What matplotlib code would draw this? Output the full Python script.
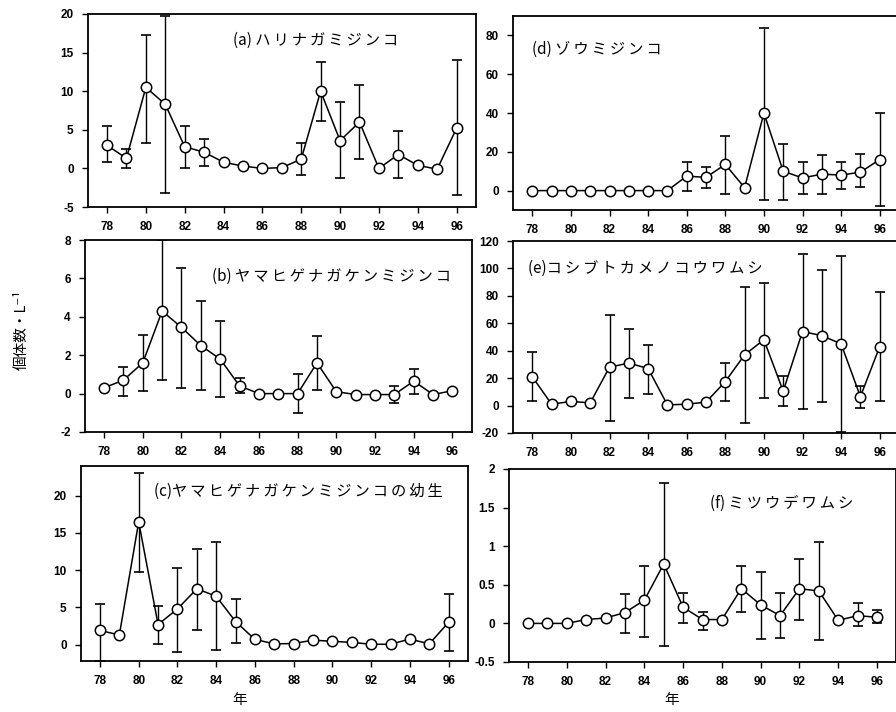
import numpy as np
import matplotlib
matplotlib.use('Agg')
import matplotlib.pyplot as plt

plt.rcParams['font.family'] = ['Liberation Sans', 'DejaVu Sans']
plt.rcParams['axes.unicode_minus'] = False
JP = ['Noto Sans CJK JP', 'DejaVu Sans']

years = list(range(78, 97))
N = None

# (a) ハリナガミジンコ
a_mean = [3.0, 1.3, 10.5, 8.3, 2.8, 2.1, 0.8, 0.3, 0.0, 0.1, 1.2, 10.0, 3.6, 6.0, 0.0, 1.8, 0.4, -0.1, 5.2]
a_lo = [0.8, 0.0, 3.3, -3.2, 0.0, 0.3, N, N, N, N, -0.8, 6.1, -1.3, 1.2, N, -1.2, N, N, -3.5]
a_hi = [5.5, 2.5, 17.3, 19.8, 5.5, 3.8, N, N, N, N, 3.3, 13.8, 8.6, 10.8, N, 4.8, N, N, 14.0]

# (b) ヤマヒゲナガケンミジンコ
b_mean = [0.3, 0.7, 1.6, 4.3, 3.45, 2.5, 1.8, 0.4, 0.0, 0.0, 0.0, 1.6, 0.1, -0.05, -0.05, -0.05, 0.65, -0.05, 0.15]
b_lo = [N, -0.1, 0.15, 0.7, 0.3, 0.2, -0.2, 0.05, N, N, -1.0, 0.2, N, N, N, -0.5, 0.0, N, N]
b_hi = [N, 1.4, 3.05, 8.0, 6.55, 4.8, 3.8, 0.8, N, N, 1.0, 3.0, N, N, N, 0.4, 1.3, N, N]

# (c) ヤマヒゲナガケンミジンコの幼生
c_mean = [1.9, 1.3, 16.5, 2.7, 4.8, 7.5, 6.5, 3.1, 0.7, 0.1, 0.15, 0.6, 0.45, 0.3, 0.05, 0.05, 0.75, 0.1, 3.0]
c_lo = [-2.2, N, 9.7, 0.1, -1.0, 1.9, -0.7, 0.2, N, N, N, N, N, N, N, N, N, N, -0.9]
c_hi = [5.5, N, 23.0, 5.2, 10.3, 12.9, 13.8, 6.1, N, N, N, N, N, N, N, N, N, N, 6.8]

# (d) ゾウミジンコ
d_mean = [0, 0, 0, 0, 0, 0, 0, 0, 7.5, 6.8, 13.5, 1.5, 40.0, 10.0, 6.5, 8.5, 8.0, 9.5, 16.0]
d_lo = [N, N, N, N, N, N, N, N, -0.3, 1.3, -2.0, N, -5.0, -5.0, -2.0, -2.0, 0.8, 2.0, -8.0]
d_hi = [N, N, N, N, N, N, N, N, 14.8, 12.0, 28.3, N, 84.0, 24.2, 14.6, 18.2, 14.6, 19.0, 40.0]

# (e) コシブトカメノコウワムシ
e_mean = [21, 1, 3, 2, 28, 31, 27, 0.5, 1, 2.5, 17.5, 37, 48, 10.5, 54, 51, 45, 6.5, 43]
e_lo = [3, N, N, N, -11.5, 5.5, 8.5, N, N, N, 3, -12.5, 5.5, -0.5, -2.8, 2.5, -19, -1.8, 3.3]
e_hi = [39, N, N, N, 65.8, 56, 44.5, N, N, N, 31, 86.8, 89.5, 21.8, 110.5, 98.5, 108.8, 14.3, 82.5]

# (f) ミツウデワムシ
f_mean = [0, 0, 0, 0.05, 0.07, 0.14, 0.3, 0.77, 0.21, 0.05, 0.05, 0.45, 0.24, 0.1, 0.45, 0.42, 0.04, 0.1, 0.08]
f_lo = [N, N, N, N, N, -0.13, -0.17, -0.29, 0.0, -0.08, N, 0.15, -0.2, -0.19, 0.04, -0.22, N, -0.03, 0.0]
f_hi = [N, N, N, N, N, 0.38, 0.75, 1.82, 0.4, 0.15, N, 0.75, 0.67, 0.4, 0.83, 1.06, N, 0.27, 0.18]

panels = [
    ('(a) ', 'ハリナガミジンコ', a_mean, a_lo, a_hi, (-5, 20), [-5, 0, 5, 10, 15, 20], None),
    ('(b) ', 'ヤマヒゲナガケンミジンコ', b_mean, b_lo, b_hi, (-2, 8), [-2, 0, 2, 4, 6, 8], None),
    ('(c)', 'ヤマヒゲナガケンミジンコの幼生', c_mean, c_lo, c_hi, (-2.2, 24), [0, 5, 10, 15, 20], None),
    ('(d) ', 'ゾウミジンコ', d_mean, d_lo, d_hi, (-10, 90), [0, 20, 40, 60, 80], None),
    ('(e)', 'コシブトカメノコウワムシ', e_mean, e_lo, e_hi, (-20, 120), [-20, 0, 20, 40, 60, 80, 100, 120], None),
    ('(f) ', 'ミツウデワムシ', f_mean, f_lo, f_hi, (-0.5, 2), [-0.5, 0, 0.5, 1, 1.5, 2],
     ['-0.5', '0', '0.5', '1', '1.5', '2']),
]

# pixel boxes: left, right, top, bottom
boxes = [(87.6, 476, 14, 207), (84.7, 471.8, 240, 432), (80.6, 468, 466, 661),
         (513, 899, 16, 210), (513, 899, 241, 433), (508.6, 896.4, 469, 662)]
title_pos = [(0.375, 0.865), (0.33, 0.81), (0.19, 0.87), (0.05, 0.83), (0.04, 0.86), (0.52, 0.82)]

W, H = 896, 712
fig = plt.figure(figsize=(W / 100, H / 100), dpi=100)

for (pre, name, mean, lo, hi, ylim, yt, ytl), (l, r, t, b), (tx, ty) in zip(panels, boxes, title_pos):
    ax = fig.add_axes([l / W, 1 - b / H, (r - l) / W, (b - t) / H])
    x = np.array(years, dtype=float)
    m = np.array(mean, dtype=float)
    has = np.array([v is not None for v in lo])
    lo_v = np.array([v if v is not None else 0 for v in lo], dtype=float)
    hi_v = np.array([v if v is not None else 0 for v in hi], dtype=float)
    ax.errorbar(x[has], m[has], yerr=[m[has] - lo_v[has], hi_v[has] - m[has]],
                fmt='none', ecolor='black', elinewidth=1.0, capsize=3.5, capthick=1.2, zorder=2)
    ax.plot(x, m, color='black', lw=1.1, marker='o', ms=7.5, mfc='white', mec='black',
            mew=1.1, zorder=3, clip_on=False)
    ax.set_xlim(77, 97)
    ax.set_ylim(*ylim)
    ax.set_xticks(range(78, 97, 2))
    ax.set_yticks(yt)
    if ytl:
        ax.set_yticklabels(ytl)
    ax.tick_params(direction='out', length=4, width=1, labelsize=8.5, pad=6)
    for lab in ax.get_xticklabels() + ax.get_yticklabels():
        lab.set_fontweight('bold')
    for sp in ax.spines.values():
        sp.set_linewidth(1.3)
    ax.text(tx, ty, pre + '\u2009'.join(name), transform=ax.transAxes, fontsize=11,
            family=JP, va='center', ha='left')

fig.text(22 / W, 1 - 330 / H, '個体数・L⁻¹', rotation=90, va='center', ha='center',
         fontsize=10.5, family=JP)
fig.text(240 / W, 1 - 700 / H, '年', va='center', ha='center', fontsize=10.5, family=JP)
fig.text(672 / W, 1 - 700 / H, '年', va='center', ha='center', fontsize=10.5, family=JP)

fig.savefig('out.png', dpi=100)
